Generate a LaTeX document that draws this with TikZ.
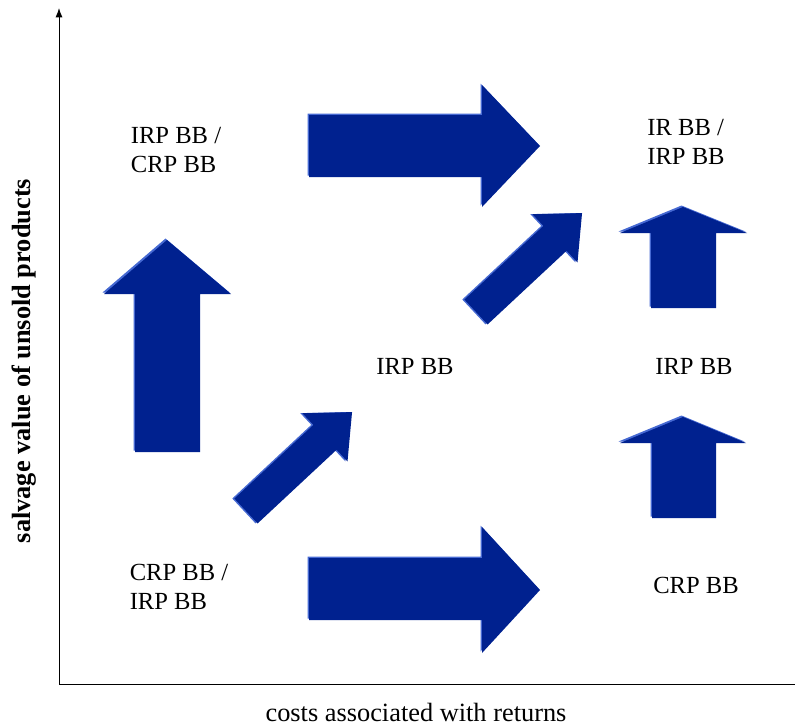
\documentclass[tikz,border=0pt]{standalone}
\usepackage{fontspec}
\setmainfont{Liberation Serif}
\usetikzlibrary{arrows.meta,positioning}
\definecolor{arrowblue}{RGB}{0,33,143}
\definecolor{arrowlight}{RGB}{70,105,210}
\newcommand{\blockarrow}[1]{%
  \fill[arrowlight, shift={(-1.5,-1.5)}] #1;
  \fill[arrowblue] #1;}

\begin{document}
\begin{tikzpicture}[x=0.03cm, y=-0.03cm, >=Latex,
    lbl/.style={font=\fontsize{21}{25}\selectfont, align=left, inner sep=0pt},
    axislabel/.style={font=\fontsize{22.5}{26}\selectfont, inner sep=0pt}]

        \useasboundingbox (0,0) rectangle (795,726);

        % Axes
        \coordinate (origin) at (59,684);
        \coordinate (ytop) at (59,8);
        \coordinate (xend) at (795,684);
        \draw[line width=0.8pt, -{Latex[length=8pt,width=6pt]}] (origin) -- (ytop);
        \draw[line width=0.8pt] (origin) -- (xend);

        % Horizontal arrows
        \blockarrow{(309,115) -- (482,115) -- (482,85) -- (540,146) -- (482,207) -- (482,177) -- (309,177) -- cycle}
        \blockarrow{(309,558) -- (482,558) -- (482,527) -- (540,590) -- (482,653) -- (482,620) -- (309,620) -- cycle}

        % Upward arrows
        \blockarrow{(135,452) -- (135,294) -- (104,294) -- (167,240) -- (231,294) -- (200,294) -- (200,452) -- cycle}
        \blockarrow{(651,308) -- (651,233) -- (620,233) -- (683,207) -- (747,233) -- (716,233) -- (716,308) -- cycle}
        \blockarrow{(652,518) -- (652,443) -- (620,443) -- (683,417) -- (746,443) -- (716,443) -- (716,518) -- cycle}

        % Diagonal arrows
        \begin{scope}[shift={(246,511)}, rotate=43]
            \blockarrow{(0,-17) -- (108,-17) -- (108,-33) -- (145,0) -- (108,33) -- (108,17) -- (0,17) -- cycle}
        \end{scope}
        \begin{scope}[shift={(476,312)}, rotate=43]
            \blockarrow{(0,-17) -- (108,-17) -- (108,-33) -- (145,0) -- (108,33) -- (108,17) -- (0,17) -- cycle}
        \end{scope}

        % Labels
        \node[lbl] (irpcrp) at (176,150) {IRP BB /\\CRP BB};
        \node[lbl] (irir) at (686,142) {IR BB /\\IRP BB};
        \node[lbl] (irpmid) at (415,366) {IRP BB};
        \node[lbl] (irpright) at (694,366) {IRP BB};
        \node[lbl] (crpirp) at (179,587) {CRP BB /\\IRP BB};
        \node[lbl] (crpright) at (696,585) {CRP BB};

        % Axis labels
        \node[axislabel] (xlabel) at (416,712) {costs associated with returns};
        \node[axislabel, font=\fontsize{22.5}{26}\selectfont\bfseries, rotate=90] (ylabel) at (24,361) {salvage value of unsold products};

    \end{tikzpicture}
\end{document}
